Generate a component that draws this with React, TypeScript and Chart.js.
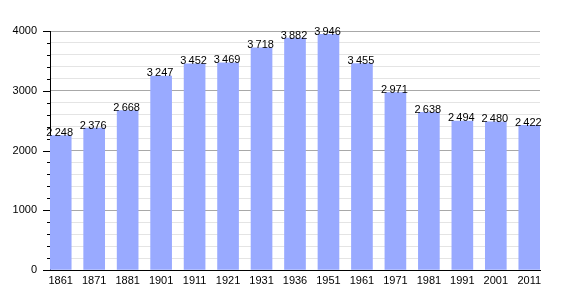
import { useEffect, useRef } from 'react';
import { Chart, registerables } from 'chart.js';

Chart.register(...registerables);

const years = ['1861', '1871', '1881', '1901', '1911', '1921', '1931', '1936', '1951', '1961', '1971', '1981', '1991', '2001', '2011'];
const population = [2248, 2376, 2668, 3247, 3452, 3469, 3718, 3882, 3946, 3455, 2971, 2638, 2494, 2480, 2422];
const yMax = 4000;
const yMajorStep = 1000;
const yMinorStep = 200;

const fmt = (n: number) => {
  const s = String(n);
  return s.length > 3 ? s.slice(0, s.length - 3) + '\u2009' + s.slice(-3) : s;
};

const FONT = '"Liberation Sans", Arial, sans-serif';

export default function App() {
  const ref = useRef<HTMLCanvasElement | null>(null);

  useEffect(() => {
    document.body.style.margin = '0';
    const canvas = ref.current;
    if (!canvas) return;

    const labelPlugin = {
      id: 'barLabels',
      afterDatasetsDraw(chart: any) {
        const ctx = chart.ctx;
        const meta = chart.getDatasetMeta(0);
        ctx.save();
        ctx.font = `11px ${FONT}`;
        ctx.fillStyle = '#000';
        ctx.textAlign = 'center';
        ctx.textBaseline = 'alphabetic';
        meta.data.forEach((bar: any, i: number) => {
          ctx.fillText(fmt(population[i]), bar.x - 1, bar.y + 0.5);
        });
        ctx.restore();
      },
    };

    const tickPlugin = {
      id: 'yTickMarks',
      afterDraw(chart: any) {
        const ctx = chart.ctx;
        const y = chart.scales.y;
        ctx.save();
        ctx.strokeStyle = '#000';
        ctx.lineWidth = 1;
        for (let v = 0; v <= yMax; v += yMinorStep) {
          const py = Math.round(y.getPixelForValue(v)) + 0.5;
          const len = v % yMajorStep === 0 ? 7 : 3;
          ctx.beginPath();
          ctx.moveTo(y.right - len, py);
          ctx.lineTo(y.right, py);
          ctx.stroke();
        }
        ctx.restore();
      },
    };

    const chart = new Chart(canvas, {
      type: 'bar',
      data: {
        datasets: [
          {
            data: population.map((v, i) => ({ x: i, y: v })),
            backgroundColor: '#99aaff',
            borderWidth: 0,
            barThickness: 21,
          },
        ],
      },
      options: {
        animation: false,
        responsive: false,
        layout: { padding: { top: 31, right: 30, left: 0, bottom: 0 } },
        plugins: { legend: { display: false }, tooltip: { enabled: false } },
        scales: {
          x: {
            type: 'linear',
            offset: false,
            min: -0.32,
            max: years.length - 1 + 0.32,
            afterFit(scale: any) {
              scale.height = 30;
            },
            afterBuildTicks(scale: any) {
              scale.ticks = years.map((_, i) => ({ value: i }));
            },
            grid: { offset: false, drawOnChartArea: false, drawTicks: false },
            border: { color: '#000', width: 1 },
            ticks: {
              autoSkip: false,
              maxRotation: 0,
              padding: 4,
              color: '#000',
              font: { family: FONT, size: 11 },
              callback: (v: any) => years[v as number] ?? '',
            },
          },
          y: {
            min: 0,
            max: yMax,
            afterFit(scale: any) {
              scale.width = 50;
            },
            grid: {
              drawTicks: false,
              color: (ctx: any) => (ctx.tick && ctx.tick.value % yMajorStep === 0 ? '#a8a8a8' : '#e4e4e4'),
            },
            border: { color: '#000', width: 1 },
            ticks: {
              stepSize: yMinorStep,
              autoSkip: false,
              padding: 13,
              color: '#000',
              font: { family: FONT, size: 11 },
              callback: (v: any) => (Number(v) % yMajorStep === 0 ? String(v) : ''),
            },
          },
        },
      },
      plugins: [labelPlugin, tickPlugin],
    });

    return () => chart.destroy();
  }, []);

  return (
    <div style={{ position: 'absolute', left: 0, top: 0, width: 570, height: 300 }}>
      <canvas ref={ref} width={570} height={300} />
    </div>
  );
}
